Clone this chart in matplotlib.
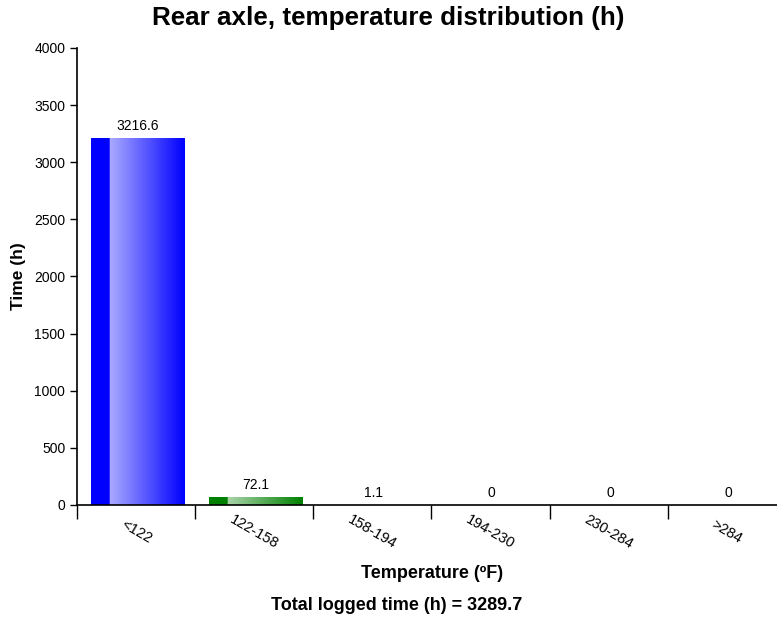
import numpy as np
import matplotlib
matplotlib.use("Agg")
import matplotlib.pyplot as plt
from matplotlib.colors import LinearSegmentedColormap
from matplotlib.patches import Rectangle

plt.rcParams['font.family'] = ['Liberation Sans', 'DejaVu Sans']

categories = ["<122", "122-158", "158-194", "194-230", "230-284", ">284"]
hours = [3216.6, 72.1, 1.1, 0, 0, 0]
value_labels = ["3216.6", "72.1", "1.1", "0", "0", "0"]
total = 3289.7
bar_colors = [("#0000FF", "#AAAAFF"), ("#008000", "#AAD4AA"),
              ("#FF0000", "#FFAAAA"), ("#FF8800", "#FFD9AA"),
              ("#800080", "#D4AAD4"), ("#888800", "#D9D9AA")]

W, H = 777, 621
fig = plt.figure(figsize=(W / 100, H / 100), dpi=100)
left, right = 77, 786
bottom, top = 505, 48
ax = fig.add_axes([left / W, 1 - bottom / H, (right - left) / W, (bottom - top) / H])

ax.set_xlim(-0.5, len(categories) - 0.5)
ax.set_ylim(0, 4000)
ax.set_yticks(np.arange(0, 4001, 500))
ax.set_xticks(np.arange(len(categories) + 1) - 0.5)
ax.set_xticklabels([])
ax.tick_params(axis='y', length=5, labelsize=10, width=1)
ax.tick_params(axis='x', length=10, width=1)
for s in ['top', 'right']:
    ax.spines[s].set_visible(False)
for s in ['left', 'bottom']:
    ax.spines[s].set_linewidth(1.2)

bw = 0.79
for i, (v, lab) in enumerate(zip(hours, value_labels)):
    x0 = i - bw / 2 + 0.01
    dark, light = bar_colors[i % len(bar_colors)]
    if v > 0:
        rect = Rectangle((x0, 0), bw, v, facecolor='none', edgecolor='none')
        ax.add_patch(rect)
        cmap = LinearSegmentedColormap.from_list(
            "g", [(0, dark), (0.199, dark), (0.2, light), (1.0, dark)])
        grad = np.linspace(0, 1, 256).reshape(1, -1)
        im = ax.imshow(grad, cmap=cmap, extent=(x0, x0 + bw, 0, v),
                       aspect='auto', interpolation='bilinear', zorder=2)
        im.set_clip_path(rect)
    ax.annotate(lab, (i + 0.01, v), xytext=(0, 3.5), textcoords='offset points',
                ha='center', va='bottom', fontsize=10)

ax.set_xlim(-0.5, len(categories) - 0.5)
ax.set_ylim(0, 4000)

for i, c in enumerate(categories):
    ax.text(i, -235, c, rotation=-30, ha='center', va='center',
            fontsize=10.5, rotation_mode='anchor')

fig.text(0.5, 1 - 18 / H, "Rear axle, temperature distribution (h)",
         ha='center', va='center', fontsize=18.7, fontweight='bold')
fig.text(19 / W, 1 - 276 / H, "Time (h)", rotation=90, ha='center', va='center',
         fontsize=12.5, fontweight='bold')
fig.text(432 / W, 1 - 574 / H, "Temperature (ºF)", ha='center', va='center',
         fontsize=13, fontweight='bold')
fig.text(397 / W, 1 - 605 / H, f"Total logged time (h) = {total}", ha='center',
         va='center', fontsize=13, fontweight='bold')

fig.savefig("out.png", dpi=100)
